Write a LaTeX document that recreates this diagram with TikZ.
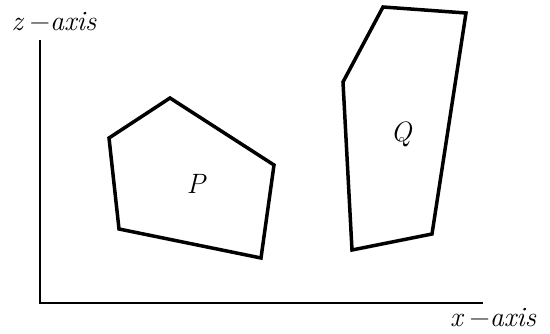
\documentclass[tikz,border=0pt]{standalone}
\usepackage{fontspec}
\begin{document}
\begin{tikzpicture}[x=1pt,y=-1pt,
  lbl/.style={font=\fontsize{28}{30}\selectfont\itshape, inner sep=0pt},
  axisline/.style={line width=2.5pt},
  poly/.style={line width=3.5pt, line join=miter}]
\useasboundingbox (0,0) rectangle (550,334);
% axes
\coordinate (top) at (40,40);
\coordinate (orig) at (40,303);
\coordinate (right) at (483,303);
\draw[axisline] (top) -- (orig) -- (right);
\node[lbl] (zl) at (54,22) {z\kern7pt{\upshape −}\kern0pt axis};
\node[lbl] (xl) at (493,318) {x\kern7pt{\upshape −}\kern0pt axis};
% P
\coordinate (p1) at (109,138);
\coordinate (p2) at (170,98);
\coordinate (p3) at (274,165);
\coordinate (p4) at (261,258);
\coordinate (p5) at (119,229);
\draw[poly] (p1) -- (p2) -- (p3) -- (p4) -- (p5) -- cycle;
\node[lbl] (P) at (196,184) {P};
% Q
\coordinate (q1) at (383,7);
\coordinate (q2) at (466,13);
\coordinate (q3) at (432,234);
\coordinate (q4) at (352,250);
\coordinate (q5) at (343,82);
\draw[poly] (q1) -- (q2) -- (q3) -- (q4) -- (q5) -- cycle;
\node[lbl] (Q) at (401,134) {Q};
\end{tikzpicture}
\end{document}
